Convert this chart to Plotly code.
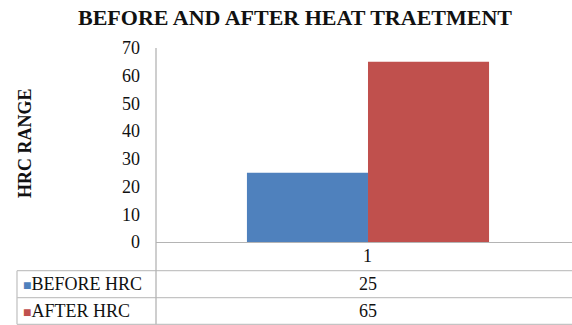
import plotly.graph_objects as go

# Data
categories = ["1"]
series_names = ["BEFORE HRC", "AFTER HRC"]
before_hrc = [25]
after_hrc = [65]
series_values = [before_hrc, after_hrc]
series_colors = ["#4F81BD", "#C0504D"]
y_ticks = [0, 10, 20, 30, 40, 50, 60, 70]

W, H = 572, 325
L, R, T, B = 156, 0, 48, 83
plot_w = W - L - R
plot_h = H - T - B

FONT = "Liberation Serif"
TEXT_SIZE = 18
GRID = "#c4c4c4"


def px_x(px):
    """Pixel column -> paper x."""
    return (px - L) / plot_w


def px_y(py):
    """Pixel row -> paper y."""
    return (H - B - py) / plot_h


fig = go.Figure()
for name, vals, col in zip(series_names, series_values, series_colors):
    fig.add_trace(go.Bar(x=categories, y=vals, name=name,
                         marker=dict(color=col, line=dict(width=0))))

# Data table below the axis
row_bounds = [H - B, 270.7, 297.7, 324.3]
table_left = 17
shapes = []
for yb in row_bounds[1:]:
    shapes.append(dict(type="line", xref="paper", yref="paper",
                       x0=px_x(table_left), x1=1, y0=px_y(yb), y1=px_y(yb),
                       line=dict(color=GRID, width=1.3)))
shapes.append(dict(type="line", xref="paper", yref="paper",
                   x0=px_x(table_left), x1=px_x(table_left),
                   y0=px_y(row_bounds[1]), y1=px_y(row_bounds[3]),
                   line=dict(color=GRID, width=1.3)))
# value axis line, continued down through the table
shapes.append(dict(type="line", xref="paper", yref="paper",
                   x0=0, x1=0, y0=1, y1=px_y(row_bounds[3]),
                   line=dict(color="#b4b4b4", width=1.3)))

cat_pos = categories.index(categories[0])
annotations = []
# category row
annotations.append(dict(x=cat_pos, xref="x", yref="paper",
                        y=px_y((row_bounds[0] + row_bounds[1]) / 2),
                        text=categories[0], showarrow=False,
                        font=dict(family=FONT, size=TEXT_SIZE, color="#111"),
                        xanchor="center", yanchor="middle"))
for i, (name, vals, col) in enumerate(zip(series_names, series_values, series_colors)):
    yc = px_y((row_bounds[i + 1] + row_bounds[i + 2]) / 2)
    annotations.append(dict(x=px_x(21), xref="paper", yref="paper", y=yc,
                            text=f"<span style='color:{col};font-size:14px'>■</span>{name}",
                            showarrow=False,
                            font=dict(family=FONT, size=TEXT_SIZE, color="#111"),
                            xanchor="left", yanchor="middle"))
    annotations.append(dict(x=cat_pos, xref="x", yref="paper", y=yc,
                            text=str(vals[0]), showarrow=False,
                            font=dict(family=FONT, size=TEXT_SIZE, color="#111"),
                            xanchor="center", yanchor="middle"))

# rotated axis title
annotations.append(dict(x=px_x(25), xref="paper", yref="paper", y=px_y(143),
                        text="<b>HRC RANGE</b>", textangle=-90, showarrow=False,
                        font=dict(family=FONT, size=18, color="#111"),
                        xanchor="center", yanchor="middle"))

fig.update_layout(
    width=W, height=H,
    margin=dict(l=L, r=R, t=T, b=B),
    paper_bgcolor="white", plot_bgcolor="white",
    font=dict(family=FONT, size=TEXT_SIZE, color="#111"),
    barmode="group", bargap=0.418, bargroupgap=0,
    showlegend=False,
    title=dict(text="<b>BEFORE AND AFTER HEAT TRAETMENT</b>",
               x=px_x(295), xref="paper", xanchor="center",
               y=1 - 17.5 / H, yref="container", yanchor="middle",
               font=dict(family=FONT, size=22, color="#111")),
    xaxis=dict(type="category", range=[-0.5096, 0.4904], showticklabels=False,
               ticks="", showgrid=False, zeroline=False, showline=True,
               linecolor="#b4b4b4", linewidth=1.3, fixedrange=True),
    yaxis=dict(range=[0, 70], tickvals=y_ticks, ticks="", showgrid=False,
               zeroline=False, showline=False, ticklabelstandoff=15,
               tickfont=dict(family=FONT, size=TEXT_SIZE, color="#111")),
    shapes=shapes,
    annotations=annotations,
)

fig.write_html("out.html")
